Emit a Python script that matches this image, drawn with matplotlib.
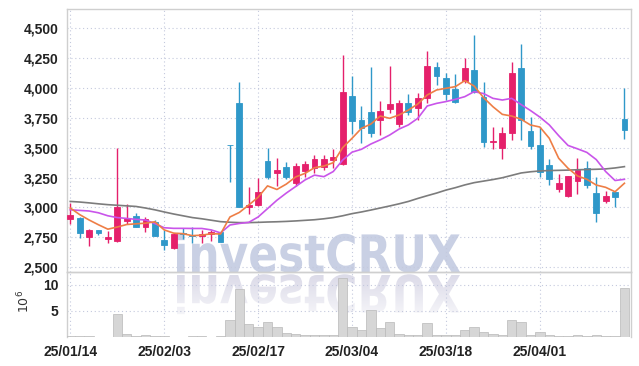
import numpy as np
import matplotlib
matplotlib.use('Agg')
import matplotlib.pyplot as plt
from matplotlib.textpath import TextPath
from matplotlib.patches import PathPatch
from matplotlib.font_manager import FontProperties
from matplotlib.transforms import Affine2D

dates = ['25/01/14', '25/01/15', '25/01/16', '25/01/17', '25/01/20', '25/01/21', '25/01/22', '25/01/23',
         '25/01/24', '25/01/31', '25/02/03', '25/02/04', '25/02/05', '25/02/06', '25/02/07', '25/02/10',
         '25/02/11', '25/02/12', '25/02/13', '25/02/14', '25/02/17', '25/02/18', '25/02/19', '25/02/20',
         '25/02/21', '25/02/24', '25/02/25', '25/02/26', '25/02/27', '25/02/28', '25/03/04', '25/03/05',
         '25/03/06', '25/03/07', '25/03/10', '25/03/11', '25/03/12', '25/03/13', '25/03/14', '25/03/17',
         '25/03/18', '25/03/19', '25/03/20', '25/03/21', '25/03/24', '25/03/25', '25/03/26', '25/03/27',
         '25/03/28', '25/03/31', '25/04/01', '25/04/02', '25/04/03', '25/04/04', '25/04/07', '25/04/08',
         '25/04/09', '25/04/10', '25/04/11', '25/04/14']

opens = [2906, 2915, 2755, 2811, 2738, 2722, 2890, 2928, 2840, 2880,
         2725, 2658, 2790, 2770, 2757, 2775, 2795, 3520, 3876, 3005,
         3023, 3388, 3285, 3340, 3201, 3307, 3327, 3341, 3396, 3363,
         3932, 3731, 3800, 3731, 3826, 3695, 3876, 3834, 3918, 4171,
         4079, 3987, 4057, 4149, 3926, 3545, 3494, 3620, 4163, 3639,
         3522, 3355, 3154, 3098, 3221, 3327, 3123, 3056, 3129, 3739]
highs = [3040, 2920, 2822, 2811, 2800, 3500, 3030, 2950, 2920, 2895,
         2810, 2785, 2830, 2835, 2810, 2815, 2805, 3520, 4050, 3170,
         3250, 3495, 3410, 3378, 3368, 3385, 3438, 3440, 3486, 4275,
         4100, 3850, 4170, 3892, 4180, 3895, 3946, 3960, 4310, 4218,
         4120, 4115, 4252, 4440, 4050, 3675, 3675, 4218, 4364, 3753,
         3675, 3402, 3277, 3265, 3411, 3388, 3257, 3140, 3129, 4000]
lows = [2860, 2742, 2675, 2770, 2700, 2715, 2865, 2835, 2797, 2762,
        2640, 2650, 2740, 2705, 2700, 2722, 2710, 3210, 3000, 2945,
        3015, 3235, 3180, 3235, 3180, 3257, 3285, 3313, 3327, 3355,
        3610, 3536, 3590, 3605, 3787, 3675, 3773, 3731, 3870, 4023,
        3898, 3870, 4038, 3954, 3508, 3486, 3402, 3564, 3564, 3486,
        3257, 3187, 3131, 3085, 3110, 3160, 2876, 3040, 3000, 3570]
closes = [2937, 2790, 2811, 2790, 2755, 3000, 2912, 2840, 2900, 2765,
          2688, 2778, 2778, 2757, 2780, 2795, 2715, 3520, 3006, 3020,
          3126, 3252, 3313, 3258, 3346, 3363, 3405, 3405, 3424, 3968,
          3725, 3667, 3625, 3806, 3864, 3876, 3800, 3912, 4182, 4101,
          3946, 3884, 4163, 3968, 3550, 3555, 3620, 4121, 3731, 3514,
          3299, 3238, 3207, 3263, 3313, 3187, 2956, 3095, 3090, 3647]
volumes = [0.2, 0.2, 0.2, 0.03, 0.03, 4.4, 0.6, 0.15, 0.35, 0.15,
           0.1, 0.05, 0.05, 0.15, 0.15, 0.05, 0.1, 3.3, 9.2, 2.5,
           1.9, 2.8, 1.9, 0.8, 0.5, 0.35, 0.35, 0.35, 0.35, 11.3,
           1.9, 1.3, 5.1, 1.7, 2.8, 0.6, 0.35, 0.35, 2.6, 0.35,
           0.35, 0.35, 1.3, 2.0, 1.0, 0.6, 0.35, 3.3, 2.8, 0.35,
           1.0, 0.35, 0.15, 0.15, 0.35, 0.15, 0.35, 0.15, 0.15, 9.4]
ma5 = [2995, 2940, 2895, 2855, 2818, 2836, 2857, 2863, 2868, 2880,
       2812, 2785, 2780, 2764, 2768, 2780, 2778, 2920, 2958, 3020,
       3085, 3180, 3150, 3195, 3255, 3285, 3332, 3346, 3374, 3500,
       3578, 3661, 3697, 3764, 3745, 3773, 3814, 3865, 3940, 3982,
       3996, 4010, 4060, 4015, 3918, 3842, 3778, 3764, 3737, 3689,
       3672, 3578, 3411, 3327, 3263, 3235, 3187, 3168, 3131, 3202]
ma20 = [2980, 2975, 2970, 2955, 2930, 2915, 2908, 2900, 2895, 2865,
        2830, 2825, 2825, 2824, 2824, 2812, 2787, 2853, 2866, 2875,
        2920, 2990, 3060, 3120, 3175, 3230, 3270, 3257, 3300, 3396,
        3462, 3486, 3530, 3565, 3605, 3655, 3690, 3745, 3848, 3870,
        3885, 3904, 3926, 3968, 3952, 3912, 3898, 3912, 3860, 3810,
        3755, 3690, 3600, 3518, 3490, 3460, 3400, 3300, 3225, 3235]
ma60 = [3050, 3045, 3038, 3030, 3023, 3018, 3013, 3008, 2995, 2980,
        2962, 2945, 2930, 2915, 2905, 2893, 2881, 2876, 2873, 2873,
        2875, 2878, 2880, 2883, 2887, 2892, 2897, 2905, 2915, 2930,
        2948, 2962, 2978, 2995, 3012, 3030, 3050, 3075, 3098, 3120,
        3145, 3165, 3188, 3207, 3220, 3233, 3248, 3268, 3288, 3298,
        3305, 3308, 3310, 3312, 3315, 3317, 3319, 3322, 3330, 3341]
date_tick_idx = [0, 10, 20, 30, 40, 50]
price_ticks = [2500, 2750, 3000, 3250, 3500, 3750, 4000, 4250, 4500]
vol_ticks = [5, 10]
watermark = 'investCRUX'

PINK = '#e5206b'
BLUE = '#2f98c9'
GRID = '#c4c9dd'
SPINE = '#cfcfcf'
TXT = '#222222'

W, H = 639, 366
fig = plt.figure(figsize=(W / 100, H / 100), dpi=100)
fig.patch.set_facecolor('white')


def px_rect(l, t, r, b):
    return [l / W, 1 - b / H, (r - l) / W, (b - t) / H]


# ---- watermark (with fading reflection) ----
wm = fig.add_axes([0, 0, 1, 1], zorder=0)
wm.axis('off')
fp_wm = FontProperties(family='DejaVu Sans', weight='bold')
tp = TextPath((0, 0), watermark, size=100, prop=fp_wm)
ext = tp.get_extents()
cap = TextPath((0, 0), 'C', size=100, prop=fp_wm).get_extents()
x0, x1, base, captop = 177, 460, 272, 233
sx = (x1 - x0) / ext.width
sy = (base - captop) / cap.height
main_path = Affine2D().translate(-ext.x0, 0).scale(sx, -sy).translate(x0, base).transform_path(tp)
ref_path = Affine2D().translate(-ext.x0, 0).scale(sx, sy).translate(x0, base + 3).transform_path(tp)
wm.add_patch(PathPatch(main_path, facecolor='#c9d0e4', edgecolor='none'))
ref_patch = PathPatch(ref_path, facecolor='none', edgecolor='none')
wm.add_patch(ref_patch)
grad = np.zeros((60, 1, 4))
grad[..., 0] = 0.86
grad[..., 1] = 0.855
grad[..., 2] = 0.91
grad[:, 0, 3] = np.linspace(1.0, 0.15, 60)
img = wm.imshow(grad, extent=(x0 - 5, x1 + 5, base + 50, base + 2), aspect='auto', interpolation='bilinear')
img.set_clip_path(ref_patch)
wm.set_xlim(0, W)
wm.set_ylim(H, 0)

# ---- axes ----
ax = fig.add_axes(px_rect(67, 9, 631, 272), zorder=1)
axv = fig.add_axes(px_rect(67, 272, 631, 337), zorder=1, sharex=ax)
for a in (ax, axv):
    a.patch.set_alpha(0)
    for s in a.spines.values():
        s.set_color(SPINE)
        s.set_linewidth(1.0)
    a.grid(True, linestyle=(0, (1, 2.5)), color=GRID, linewidth=0.8)
    a.set_axisbelow(True)
axv.spines['bottom'].set_visible(False)

x = np.arange(len(opens))
o = np.array(opens, float)
c = np.array(closes, float)
colors = np.where(c > o, PINK, BLUE)

ax.vlines(x, lows, highs, colors=colors, linewidth=1.0, zorder=3)
ax.bar(x, np.abs(c - o), bottom=np.minimum(o, c), width=0.62, color=colors,
       edgecolor=colors, linewidth=0.6, zorder=4)
ax.plot(x, ma60, color='#7c7c7c', linewidth=1.2, zorder=5)
ax.plot(x, ma20, color='#c955ea', linewidth=1.2, zorder=5)
ax.plot(x, ma5, color='#ee7e46', linewidth=1.2, zorder=5)

axv.bar(x, volumes, width=1.0, color='#d6d6d6', edgecolor='#b9b9b9', linewidth=0.5, zorder=3)

ax.set_xlim(-0.35, 59.7)
ax.set_ylim(2460, 4659)
axv.set_ylim(0, 12.5)

tick_font = FontProperties(family=['Liberation Sans', 'DejaVu Sans'], weight='bold', size=10)

ax.set_yticks(price_ticks)
ax.set_yticklabels([f'{v:,}' for v in price_ticks], fontproperties=tick_font, color=TXT)
ax.set_xticks(date_tick_idx)
ax.tick_params(axis='both', length=0, pad=6)
ax.tick_params(axis='x', labelbottom=False)

axv.set_yticks(vol_ticks)
axv.set_yticklabels([str(v) for v in vol_ticks], fontproperties=tick_font, color=TXT)
axv.set_xticks(date_tick_idx)
axv.set_xticklabels([dates[i] for i in date_tick_idx], fontproperties=tick_font, color=TXT)
axv.tick_params(axis='both', length=0, pad=6)
axv.set_ylabel('10$^6$', fontsize=9, color='#333333')
axv.yaxis.set_label_coords(-0.062, 0.55)

fig.savefig('out.png', dpi=100, facecolor='white')
